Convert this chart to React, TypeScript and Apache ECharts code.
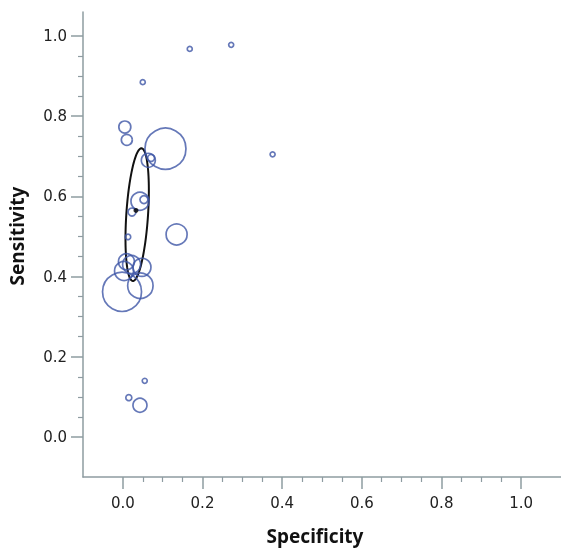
import React, { useEffect, useRef } from "react";
import * as echarts from "echarts";

// Study estimates: specificity (x), sensitivity (y), bubble radius (study weight)
const specificity = [0.168, 0.272, 0.05, 0.376, 0.005, 0.01, 0.107, 0.064, 0.071, 0.043, 0.053, 0.023, 0.013, 0.135, 0.009, 0.022, 0.048, 0.003, -0.002, 0.044, 0.055, 0.015, 0.043];
const sensitivity = [0.968, 0.978, 0.885, 0.705, 0.773, 0.741, 0.719, 0.69, 0.696, 0.588, 0.592, 0.561, 0.499, 0.505, 0.437, 0.43, 0.423, 0.414, 0.362, 0.377, 0.14, 0.098, 0.079];
const weight = [2.5, 2.5, 2.5, 2.5, 6, 5.5, 20.5, 7, 3.5, 9, 4, 4, 2.7, 10.5, 8, 9, 9, 9.5, 19.5, 12.7, 2.5, 3, 7];

// Summary point
const summaryPoint = [0.033, 0.565];
// Confidence region: center, half major axis vector, half minor axis vector
const regionCenter = [0.036, 0.5545];
const regionMajor = [0.011, 0.1655];
const regionMinor = [0.0272, -0.0018];

const majorTicks = [0, 0.2, 0.4, 0.6, 0.8, 1.0];
const minorTicks = [0.05, 0.1, 0.15, 0.25, 0.3, 0.35, 0.45, 0.5, 0.55, 0.65, 0.7, 0.75, 0.85, 0.9, 0.95];

const AXIS_COLOR = "#8e9ca1";
const CIRCLE_COLOR = "#3f56a6";
const LABEL_FONT = "'DejaVu Sans', Verdana, sans-serif";
const TITLE_FONT = "'Noto Sans', 'Open Sans', sans-serif";

export default function App() {
  const ref = useRef<HTMLDivElement>(null);
  useEffect(() => {
    if (!ref.current) return;
    const chart = echarts.init(ref.current, null, { renderer: "svg" });
    const studies = specificity.map((x, i) => [x, sensitivity[i], weight[i]]);

    const majorAxis = (min: number, max: number, isX: boolean) => ({
      type: "value",
      min,
      max,
      axisLine: { show: true, onZero: false, lineStyle: { color: AXIS_COLOR, width: 1.5 } },
      axisTick: { show: true, customValues: majorTicks, length: 12, lineStyle: { color: AXIS_COLOR, width: 1.5 } },
      axisLabel: {
        show: true,
        customValues: majorTicks,
        formatter: (v: number) => v.toFixed(1),
        fontSize: 15,
        fontFamily: LABEL_FONT,
        color: "#222",
        margin: isX ? 18 : 16,
      },
      splitLine: { show: false },
    });
    const minorAxis = (min: number, max: number) => ({
      type: "value",
      min,
      max,
      axisLine: { show: false, onZero: false },
      axisTick: { show: true, customValues: minorTicks, length: 5, lineStyle: { color: AXIS_COLOR, width: 1.2 } },
      axisLabel: { show: false },
      splitLine: { show: false },
    });

    chart.setOption({
      animation: false,
      grid: { left: 83, top: 12, width: 480, height: 465 },
      xAxis: [
        { ...majorAxis(-0.1, 1.1, true), position: "bottom" },
        { ...minorAxis(-0.1, 1.1), position: "bottom" },
      ],
      yAxis: [
        { ...majorAxis(-0.1, 1.06, false), position: "left" },
        { ...minorAxis(-0.1, 1.06), position: "left" },
      ],
      graphic: [
        {
          type: "text",
          x: 315,
          y: 536,
          style: { text: "Specificity", font: `bold 19px ${TITLE_FONT}`, fill: "#111", align: "center", verticalAlign: "middle" },
        },
        {
          type: "text",
          x: 17,
          y: 236,
          rotation: Math.PI / 2,
          style: { text: "Sensitivity", font: `bold 19px ${TITLE_FONT}`, fill: "#111", align: "center", verticalAlign: "middle" },
        },
      ],
      series: [
        {
          type: "scatter",
          data: studies,
          symbol: "circle",
          symbolSize: (v: number[]) => v[2] * 2,
          itemStyle: { color: "rgba(0,0,0,0)", borderColor: CIRCLE_COLOR, borderWidth: 1.7 },
          emphasis: { disabled: true },
          clip: false,
        },
        {
          type: "custom",
          data: [[regionCenter[0], regionCenter[1]]],
          clip: false,
          renderItem: (_params: any, api: any) => {
            const pts: number[][] = [];
            const N = 120;
            for (let i = 0; i <= N; i++) {
              const t = (2 * Math.PI * i) / N;
              const x = regionCenter[0] + Math.cos(t) * regionMajor[0] + Math.sin(t) * regionMinor[0];
              const y = regionCenter[1] + Math.cos(t) * regionMajor[1] + Math.sin(t) * regionMinor[1];
              pts.push(api.coord([x, y]));
            }
            return {
              type: "polygon",
              shape: { points: pts },
              style: { fill: "none", stroke: "#111", lineWidth: 2 },
            };
          },
        },
        {
          type: "scatter",
          data: [summaryPoint],
          symbol: "circle",
          symbolSize: 5,
          itemStyle: { color: "#000" },
          emphasis: { disabled: true },
        },
      ],
    });
    return () => chart.dispose();
  }, []);
  return <div ref={ref} style={{ position: "fixed", left: 0, top: 0, width: 561, height: 549 }} />;
}
